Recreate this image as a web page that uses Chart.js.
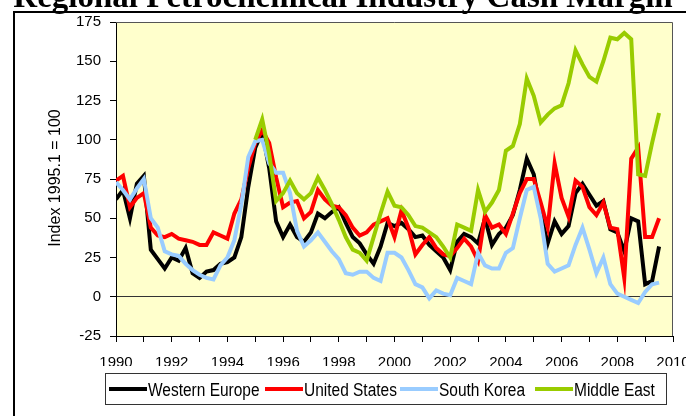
<!DOCTYPE html>
<html>
<head>
<meta charset="utf-8">
<script src="https://cdn.jsdelivr.net/npm/chart.js@4/dist/chart.umd.min.js"></script>
<style>
  html, body { margin: 0; padding: 0; background: #ffffff; }
  #wrap { width: 686px; height: 416px; position: relative; overflow: hidden; }
  canvas { display: block; }
</style>
</head>
<body>
<div id="wrap"><canvas id="c" width="686" height="416"></canvas></div>
<script>
// Quarterly cash-margin index, 1995 Q1 = 100, from 1990 Q1 to 2009 Q3
const startYear = 1990;
const quarterCount = 79;
const periods = Array.from({ length: quarterCount }, (_, i) => startYear + i / 4);

const seriesNames = ['Western Europe', 'United States', 'South Korea', 'Middle East'];
const seriesColors = ['#000000', '#ff0000', '#99ccff', '#99cc00'];

const westernEurope = [
  62, 68, 50, 72,   77, 30, 24, 18,   25, 23, 31, 15,   12, 16, 17, 21,
  22, 25, 38, 70,   95, 105, 82, 48,  38, 46, 38, 35,   41, 53, 50, 54,
  57, 47, 38, 34,   27, 21, 32, 47,   45, 47, 43, 38,   39, 33, 29, 25,
  17, 35, 40, 38,   34, 50, 33, 40,   44, 52, 68, 88,   78, 53, 34, 48,
  40, 45, 66, 72,   65, 58, 61, 43,   41, 29, 50, 48,   8, 10, 32
];
const unitedStates = [
  74, 77, 57, 63,   66, 44, 39, 38,   40, 37, 36, 35,   33, 33, 41, 39,
  37, 53, 62, 82,   98, 106, 98, 76,  57, 60, 61, 50,   54, 68, 62, 58,
  57, 52, 44, 39,   41, 46, 48, 50,   38, 55, 44, 27,   33, 38, 31, 27,
  26, 31, 37, 32,   23, 52, 44, 46,   40, 53, 66, 75,   75, 60, 44, 85,
  63, 51, 74, 70,   57, 52, 60, 44,   43, 12, 88, 95,   38, 38, 50
];
const southKorea = [
  73, 68, 62, 69,   75, 50, 44, 29,   27, 26, 21, 17,   14, 12, 11, 20,
  25, 36, 59, 89,   99, 100, 85, 79,  79, 66, 42, 32,   36, 41, 35, 29,
  24, 15, 14, 16,   16, 12, 10, 28,   28, 25, 17, 8,    6, -1, 4, 2,
  1, 12, 10, 8,     28, 20, 18, 18,   28, 31, 50, 68,   70, 50, 21, 16,
  18, 20, 33, 44,   30, 15, 25, 8,    2, 0, -2, -4,     3, 8, 9
];
const middleEast = [
  null, null, null, null,  null, null, null, null,  null, null, null, null,
  null, null, null, null,  null, null, null, null,
  100, 113, 91, 61,   66, 74, 66, 62,   66, 76, 68, 59,   49, 38, 30, 28,
  23, 38, 53, 67,     58, 57, 52, 45,   44, 41, 38, 32,   25, 46, 44, 42,
  68, 54, 60, 68,     93, 96, 110, 139, 128, 111, 116, 120, 122, 136, 157, 148,
  140, 137, 150, 165, 164, 168, 164, 78,  77, 98, 117
];

const yTicks = [-25, 0, 25, 50, 75, 100, 125, 150, 175];
const xTickYears = [1990, 1992, 1994, 1996, 1998, 2000, 2002, 2004, 2006, 2008, 2010];

const chartTitle = 'Regional Petrochemical Industry Cash Margin';
const yAxisTitle = 'Index 1995.1 = 100';

const seriesValues = [westernEurope, unitedStates, southKorea, middleEast];

const sansFamily = '"Liberation Sans", Arial, sans-serif';
const tickFont = { family: sansFamily, size: 15 };

function toPoints(values) {
  return values.map((v, i) => ({ x: periods[i], y: v }));
}

const datasets = seriesValues.map((vals, k) => ({
  label: seriesNames[k],
  data: toPoints(vals),
  borderColor: seriesColors[k],
  backgroundColor: seriesColors[k],
  borderWidth: 4,
  pointRadius: 0,
  tension: 0,
  spanGaps: false,
  order: seriesNames.length - k   // later series drawn on top
}));

// Draws text squeezed horizontally so it reads like a condensed face
function condensedText(c, text, x, y, squeeze) {
  c.save();
  c.translate(x, y);
  c.scale(squeeze, 1);
  c.fillText(text, 0, 0);
  c.restore();
}

// Page furniture: background, frame, plot fill, title, axis title and legend
const decor = {
  id: 'decor',
  beforeDraw(chart) {
    const c = chart.ctx;
    const a = chart.chartArea;
    c.save();
    c.fillStyle = '#ffffff';
    c.fillRect(0, 0, chart.width, chart.height);
    c.fillStyle = '#ffffcc';
    c.fillRect(a.left, a.top, a.right - a.left, a.bottom - a.top);

    // outer frame
    c.strokeStyle = '#000000';
    c.lineWidth = 2;
    c.strokeRect(14, 12, 900, 900);

    // title
    c.fillStyle = '#000000';
    c.font = 'bold 33px "Liberation Serif", "Times New Roman", serif';
    c.textAlign = 'center';
    c.textBaseline = 'alphabetic';
    c.fillText(chartTitle, 343, 7);
    c.restore();
  },
  afterDraw(chart) {
    const c = chart.ctx;
    const a = chart.chartArea;
    c.save();
    // plot border, top and right
    c.strokeStyle = '#555555';
    c.lineWidth = 1;
    c.beginPath();
    c.moveTo(a.left, a.top + 0.5);
    c.lineTo(a.right - 0.5, a.top + 0.5);
    c.lineTo(a.right - 0.5, a.bottom);
    c.stroke();

    // y axis title
    c.fillStyle = '#000000';
    c.font = '16px ' + sansFamily;
    c.translate(56, 178);
    c.rotate(-Math.PI / 2);
    c.textAlign = 'center';
    c.textBaseline = 'middle';
    c.fillText(yAxisTitle, 0, 0);
    c.restore();

    // legend
    c.save();
    c.strokeStyle = '#333333';
    c.lineWidth = 1;
    c.fillStyle = '#ffffff';
    c.fillRect(105, 373, 561, 31);
    c.strokeRect(105.5, 373.5, 561, 31);
    const starts = [109, 265, 400, 535];
    const lineLen = 38;
    c.font = '18px ' + sansFamily;
    c.textAlign = 'left';
    c.textBaseline = 'alphabetic';
    seriesNames.forEach((name, k) => {
      const x0 = starts[k];
      c.strokeStyle = seriesColors[k];
      c.lineWidth = 4;
      c.beginPath();
      c.moveTo(x0, 389);
      c.lineTo(x0 + lineLen, 389);
      c.stroke();
      c.fillStyle = '#000000';
      condensedText(c, name, x0 + lineLen + 1, 396, 0.86);
    });
    c.restore();
  }
};

new Chart(document.getElementById('c'), {
  type: 'line',
  data: { datasets },
  options: {
    responsive: false,
    animation: false,
    events: [],
    layout: { padding: { left: 0, top: 22, right: 13, bottom: 50 } },
    plugins: {
      legend: { display: false },
      title: { display: false },
      tooltip: { enabled: false }
    },
    scales: {
      x: {
        type: 'linear',
        min: 1990,
        max: 2010,
        afterBuildTicks(scale) {
          const t = [];
          for (let y = 1990; y <= 2010; y++) t.push({ value: y });
          scale.ticks = t;
        },
        ticks: {
          autoSkip: false,
          maxRotation: 0,
          color: '#000000',
          font: tickFont,
          padding: 12,
          callback: v => (xTickYears.includes(v) ? String(v) : '')
        },
        grid: { drawOnChartArea: false, tickLength: 6, tickColor: '#000000', tickWidth: 1 },
        border: { color: '#000000', width: 1 },
        afterFit(scale) {
          scale.height = 30;
          scale.paddingLeft = 0;
          scale.paddingRight = 0;
        }
      },
      y: {
        min: -25,
        max: 175,
        afterBuildTicks(scale) {
          scale.ticks = yTicks.map(v => ({ value: v }));
        },
        ticks: { color: '#000000', font: tickFont, padding: 9 },
        grid: {
          color: ctx => (ctx.tick && ctx.tick.value === 0 ? '#333333' : 'rgba(0,0,0,0)'),
          lineWidth: 1,
          tickColor: '#000000',
          tickLength: 6
        },
        border: { color: '#000000', width: 1 },
        afterFit(scale) {
          scale.width = 116;
        }
      }
    }
  },
  plugins: [decor]
});
</script>
</body>
</html>
